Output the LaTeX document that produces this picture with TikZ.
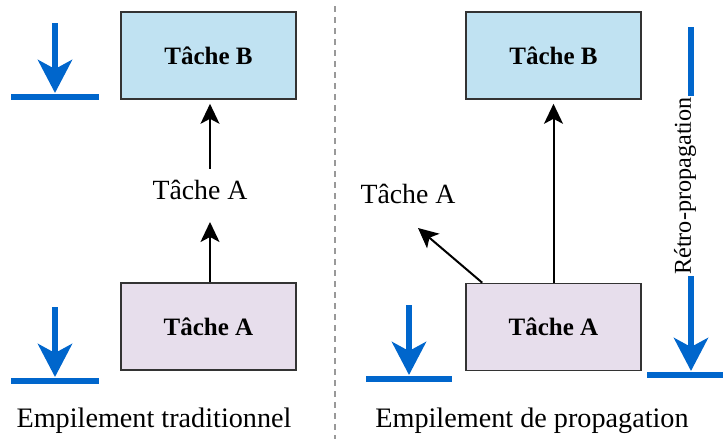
\documentclass[tikz,border=0pt]{standalone}
\usepackage{fontspec}
\setmainfont{Liberation Serif}
\usetikzlibrary{arrows.meta}
\definecolor{boxblue}{HTML}{C0E2F2}
\definecolor{boxpink}{HTML}{E7DEEC}
\definecolor{stackblue}{HTML}{0066CC}
\definecolor{boxedge}{HTML}{333333}
\begin{document}
\begin{tikzpicture}[x=1pt,y=-1pt,
  taskbox/.style={draw=boxedge,line width=1.6pt,minimum width=175pt,minimum height=87pt,inner sep=0pt,
    font=\fontsize{25}{28}\selectfont\bfseries},
  lab/.style={font=\fontsize{27.8}{30}\selectfont,inner sep=0pt},
  flow/.style={line width=2pt,-{Stealth[length=20pt,width=19pt,inset=5pt]}},
  push/.style={stackblue,line width=6pt,-{Stealth[length=33pt,width=34pt,inset=9pt]}},
  base/.style={stackblue,line width=6pt},
  captxt/.style={font=\fontsize{28.2}{30}\selectfont,inner sep=0pt}]
\useasboundingbox (0,0) rectangle (723,439);
% separator
\coordinate (s1) at (335,6);
\coordinate (s2) at (335,439);
\draw[gray!80,line width=1.6pt,dash pattern=on 6pt off 5pt] (s1) -- (s2);
% ---------- left panel
\node[taskbox,fill=boxblue] (LB) at (208.5,55.5) {Tâche B};
\node[taskbox,fill=boxpink] (LA) at (208.5,326.5) {Tâche A};
\node[lab] (LL) at (200,190) {Tâche A};
\draw[flow,shorten >=22pt] ([xshift=1.5pt]LA.north) -- ([xshift=1.5pt]LA.north |- LL.south);
\draw[flow,shorten <=11pt,shorten >=4pt] ([xshift=1.5pt]LB.south |- LL.north) -- ([xshift=1.5pt]LB.south);
% blue stacks left
\coordinate (p1a) at (55,23); \coordinate (p1b) at (55,93);
\coordinate (b1a) at (11,97); \coordinate (b1b) at (99,97);
\draw[push] (p1a) -- (p1b);
\draw[base] (b1a) -- (b1b);
\coordinate (p2a) at (55,307); \coordinate (p2b) at (55,377);
\coordinate (b2a) at (11,381); \coordinate (b2b) at (99,381);
\draw[push] (p2a) -- (p2b);
\draw[base] (b2a) -- (b2b);
\node[captxt] (C1) at (154,421) {Empilement traditionnel};
% ---------- right panel
\node[taskbox,fill=boxblue] (RB) at (553.5,55.5) {Tâche B};
\node[taskbox,fill=boxpink] (RA) at (553.5,327) {Tâche A};
\node[lab] (RL) at (408,194) {Tâche A};
\draw[flow,shorten >=4pt] (RA.north) -- (RB.south);
\coordinate (dEnd) at (418,228);
\draw[flow] ([xshift=17pt]RA.north west) -- (dEnd);
\coordinate (p3a) at (409,305); \coordinate (p3b) at (409,375);
\coordinate (b3a) at (366,379); \coordinate (b3b) at (452,379);
\draw[push] (p3a) -- (p3b);
\draw[base] (b3a) -- (b3b);
\coordinate (p4a) at (691,27); \coordinate (p4b) at (691,371);
\coordinate (b4a) at (647,375); \coordinate (b4b) at (723,375);
\draw[push] (p4a) -- (p4b);
\draw[base] (b4a) -- (b4b);
\node[fill=white,rotate=90,font=\fontsize{24.2}{26}\selectfont,inner xsep=1pt,inner ysep=2pt] (RT) at (685,186) {Rétro-propagation};
\node[captxt] (C2) at (532,421) {Empilement de propagation};
\end{tikzpicture}
\end{document}
